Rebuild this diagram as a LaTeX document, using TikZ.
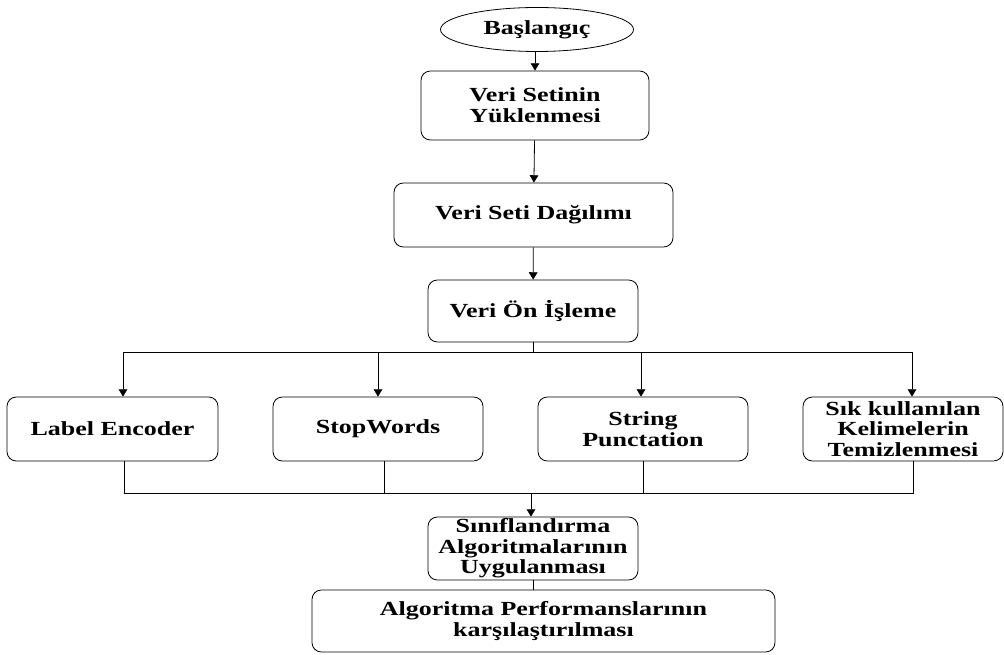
\documentclass[tikz,border=0pt]{standalone}
\usepackage{fontspec}
\setmainfont[FakeStretch=1.3]{Liberation Serif}
\usetikzlibrary{shapes.geometric,arrows.meta}

\begin{document}
\begin{tikzpicture}[x=0.75pt,y=-0.75pt,
		kutu/.style={draw, line width=0.6pt, rounded corners=7pt, align=center, inner sep=0pt,
			font=\fontsize{15}{15.5}\selectfont\bfseries},
		ok/.style={-{Triangle[length=5.5pt,width=6.5pt]}, line width=0.6pt},
		cizgi/.style={line width=0.6pt}]
	\useasboundingbox (0,0) rectangle (1004,655);
	
	\node[kutu, ellipse, sharp corners, minimum width=144.75pt, minimum height=33pt] (basla) at (537,29.5) {Başlangıç};
	\node[kutu, minimum width=171pt, minimum height=51.75pt] (yukle) at (535,105.5) {Veri Setinin\\Yüklenmesi};
	\node[kutu, minimum width=209.25pt, minimum height=48pt] (dagilim) at (533.5,215) {Veri Seti Dağılımı};
	\node[kutu, minimum width=157.5pt, minimum height=46.5pt] (onisleme) at (533,311) {Veri Ön İşleme};
	
	\node[kutu, minimum width=158.25pt, minimum height=48pt] (label) at (112.5,429) {Label Encoder};
	\node[kutu, minimum width=157.5pt, minimum height=48pt] (stop) at (378,429) {StopWords};
	\node[kutu, minimum width=157.5pt, minimum height=48pt] (string) at (643,429) {String\\Punctation};
	\node[kutu, minimum width=150pt, minimum height=48pt] (sik) at (903,429) {Sık kullanılan\\Kelimelerin\\Temizlenmesi};
	
	\node[kutu, minimum width=157.5pt, minimum height=47.25pt] (sinif) at (533,548.5) {Sınıflandırma\\Algoritmalarının\\Uygulanması};
	\node[kutu, minimum width=347.25pt, minimum height=46.5pt] (perf) at (543.5,621) {Algoritma Performanslarının\\karşılaştırılması};
	
	\draw[ok] (basla.south -| yukle) -- (yukle);
	\draw[ok] (yukle) -- (dagilim);
	\draw[ok] (dagilim) -- (onisleme);
	
	\coordinate (dal1) at (123,352);
	\coordinate (dal2) at (378,352);
	\coordinate (dal3) at (641,352);
	\coordinate (dal4) at (912,352);
	\draw[cizgi] (onisleme.south) -- (onisleme.south |- dal1);
	\draw[cizgi] (dal1) -- (dal4);
	\draw[ok] (dal1) -- (dal1 |- label.north);
	\draw[ok] (dal2) -- (dal2 |- stop.north);
	\draw[ok] (dal3) -- (dal3 |- string.north);
	\draw[ok] (dal4) -- (dal4 |- sik.north);
	
	\coordinate (top1) at (124,493);
	\coordinate (top2) at (384,493);
	\coordinate (top3) at (643,493);
	\coordinate (top4) at (913,493);
	\coordinate (top5) at (531,493);
	\draw[cizgi] (top1 |- label.south) -- (top1) -- (top4) -- (top4 |- sik.south);
	\draw[cizgi] (top2 |- stop.south) -- (top2);
	\draw[cizgi] (top3 |- string.south) -- (top3);
	\draw[ok] (top5) -- (top5 |- sinif.north);
	\draw[cizgi] (sinif.south) -- (sinif.south |- perf.north);
\end{tikzpicture}
\end{document}
